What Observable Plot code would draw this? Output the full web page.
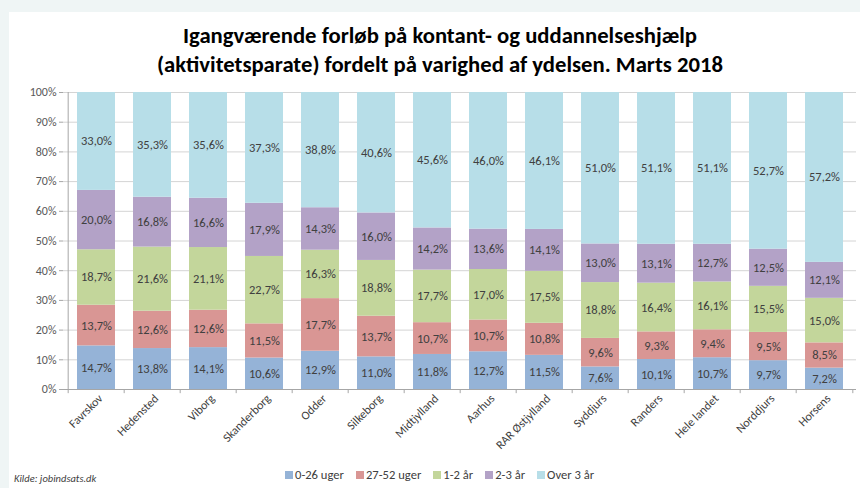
<!DOCTYPE html>
<html>
<head>
<meta charset="utf-8">
<script src="https://cdn.jsdelivr.net/npm/d3@7"></script>
<script src="https://cdn.jsdelivr.net/npm/@observablehq/plot@0.6"></script>
<style>
  html, body { margin:0; padding:0; }
  body { width:860px; height:488px; background:#eff5f5; position:relative; overflow:hidden;
         font-family: Carlito, "Liberation Sans Narrow", "Open Sans", sans-serif; }
  #panel { position:absolute; left:9px; top:12px; width:851px; height:476px; background:#fff; }
  #title { position:absolute; left:0; top:21px; width:880px; text-align:center; font-weight:bold;
           font-size:22.7px; line-height:29px; color:#000; }
  #chart { position:absolute; left:0; top:0; }
  #legend { position:absolute; top:467px; left:285px; display:flex; gap:12px; font-size:12.6px; color:#404040; white-space:nowrap; }
  #legend span.sw { display:inline-block; width:8px; height:8px; margin-right:2px; vertical-align:0px; }
  #source { position:absolute; left:14px; top:472px; font-size:10.5px; font-style:italic; color:#404040; }
</style>
</head>
<body>
<div id="panel"></div>
<div id="title">Igangværende forløb på kontant- og uddannelseshjælp<br>(aktivitetsparate) fordelt på varighed af ydelsen. Marts 2018</div>
<div id="chart"></div>
<div id="legend"></div>
<div id="source">Kilde: jobindsats.dk</div>
<script>
const categories = ["Favrskov","Hedensted","Viborg","Skanderborg","Odder","Silkeborg","Midtjylland","Aarhus","RAR Østjylland","Syddjurs","Randers","Hele landet","Norddjurs","Horsens"];
const series = ["0-26 uger","27-52 uger","1-2 år","2-3 år","Over 3 år"];
const colors = ["#95b3d7","#d99694","#c3d69b","#b3a2c7","#b7dee8"];
const v0_26   = [14.7,13.8,14.1,10.6,12.9,11.0,11.8,12.7,11.5,7.6,10.1,10.7,9.7,7.2];
const v27_52  = [13.7,12.6,12.6,11.5,17.7,13.7,10.7,10.7,10.8,9.6,9.3,9.4,9.5,8.5];
const v1_2    = [18.7,21.6,21.1,22.7,16.3,18.8,17.7,17.0,17.5,18.8,16.4,16.1,15.5,15.0];
const v2_3    = [20.0,16.8,16.6,17.9,14.3,16.0,14.2,13.6,14.1,13.0,13.1,12.7,12.5,12.1];
const vOver3  = [33.0,35.3,35.6,37.3,38.8,40.6,45.6,46.0,46.1,51.0,51.1,51.1,52.7,57.2];
const yTicks = [0,0.1,0.2,0.3,0.4,0.5,0.6,0.7,0.8,0.9,1];

const seriesValues = [v0_26, v27_52, v1_2, v2_3, vOver3];
const data = categories.flatMap((c, i) => series.map((s, j) => ({cat: c, ser: s, v: seriesValues[j][i]})));
const fmt = v => v.toFixed(1).replace(".", ",") + "%";

const W = 860, H = 432, mL = 63, mR = 4, mT = 92, mB = 43;
const step = (W - mL - mR) / categories.length;

const chart = Plot.plot({
  width: W, height: H, marginTop: mT, marginBottom: mB, marginLeft: mL, marginRight: mR,
  style: {fontFamily: 'Carlito, "Liberation Sans Narrow", "Open Sans", sans-serif', background: "transparent", overflow: "visible"},
  x: {domain: categories, paddingInner: 0.33, paddingOuter: 0.165, label: null},
  y: {domain: [0, 1], label: null},
  color: {domain: series, range: colors},
  marks: [
    Plot.gridY(yTicks, {stroke: "#d4d4d4", strokeOpacity: 1}),
    Plot.barY(data, Plot.stackY({offset: "normalize"}, {x: "cat", y: "v", fill: "ser"})),
    Plot.text(data, Plot.stackY({offset: "normalize"}, {x: "cat", y: "v", text: d => fmt(d.v), fill: "#404040", fontSize: 12.5})),
    Plot.ruleY([0], {stroke: "#a6a6a6"}),
    Plot.ruleX([categories[0]], {x: d => d, dx: -step / 2, y1: 0, y2: 1, stroke: "#a6a6a6"}),
    Plot.ruleX(categories, {x: d => d, dx: -step / 2, y1: 0, y2: -0.014, stroke: "#a6a6a6"}),
    Plot.ruleX([categories[categories.length - 1]], {x: d => d, dx: step / 2, y1: 0, y2: -0.014, stroke: "#a6a6a6"}),
    Plot.axisY(yTicks, {tickFormat: d3.format(".0%"), tickSize: 4, tickPadding: 3, stroke: "#a6a6a6", fill: "#595959", fontSize: 12, label: null}),
    Plot.axisX({tickSize: 0, tickPadding: 7, dx: 4, tickRotate: -45, fill: "#404040", fontSize: 12, label: null})
  ]
});
document.getElementById("chart").appendChild(chart);

const legend = document.getElementById("legend");
series.forEach((s, j) => {
  const item = document.createElement("div");
  item.innerHTML = `<span class="sw" style="background:${colors[j]}"></span>${s}`;
  legend.appendChild(item);
});
</script>
</body>
</html>
